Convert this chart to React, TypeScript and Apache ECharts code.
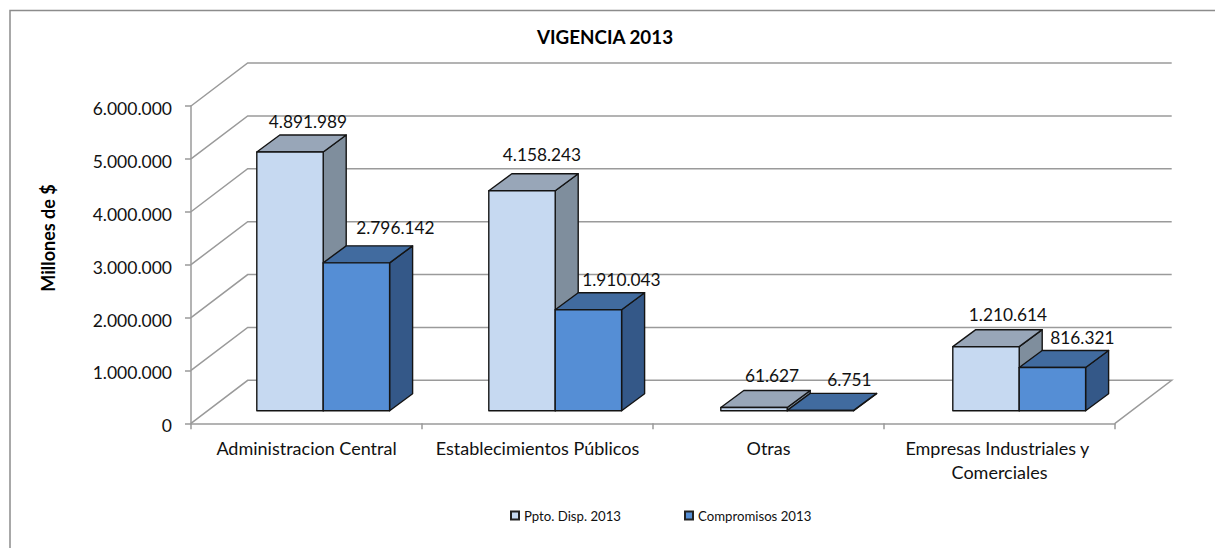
import React, { useEffect, useRef } from "react";
import * as echarts from "echarts";

const categories = ["Administracion Central", "Establecimientos Públicos", "Otras", "Empresas Industriales y Comerciales"];
const presupuesto = [4891989, 4158243, 61627, 1210614];
const compromisos = [2796142, 1910043, 6751, 816321];
const yTicks = [0, 1000000, 2000000, 3000000, 4000000, 5000000, 6000000];

// Layout of the pseudo-3D projection, in pixels
const GRID = { left: 191, top: 106, width: 924, height: 317.3 };
const WALL = { dx: 56.7, dy: -43 };
const BAR = { width: 66.4, dx: 23, dy: -17, offX: 16.7, offY: -12.6, stepExtra: 1 };
const nudgeA = [[18, -30], [20, -36], [18, -32], [22, -32]];
const nudgeB = [[39, -35], [33, -30], [29, -31], [30, -30]];

const FONT = "Lato";
const fmt = (v: number) => v.toString().replace(/\B(?=(\d{3})+(?!\d))/g, ".");

function barRenderer(seriesIndex: number, face: string, top: string, side: string, nudge: number[][]) {
  return (params: any, api: any) => {
    const cat = api.value(0);
    const val = api.value(1);
    const [cx, y0] = api.coord([cat, 0]);
    const [, yV] = api.coord([cat, val]);
    const w = BAR.width;
    const xL = cx + BAR.offX + cat * BAR.stepExtra + (seriesIndex === 0 ? -w : 0);
    const xR = xL + w;
    const yB = y0 + BAR.offY;
    const yT = yV + BAR.offY;
    const { dx, dy } = BAR;
    const stroke = { stroke: "#141414", lineWidth: 1.4, lineJoin: "round" };
    const poly = (points: number[][], fill: string) => ({
      type: "polygon",
      shape: { points },
      style: { fill, ...stroke },
    });
    const n = nudge[cat];
    return {
      type: "group",
      children: [
        poly([[xR, yB], [xR + dx, yB + dy], [xR + dx, yT + dy], [xR, yT]], side),
        poly([[xL, yT], [xR, yT], [xR + dx, yT + dy], [xL + dx, yT + dy]], top),
        poly([[xL, yB], [xR, yB], [xR, yT], [xL, yT]], face),
        {
          type: "text",
          z2: 10,
          style: {
            x: xL + w / 2 + n[0],
            y: yT + n[1],
            text: fmt(val),
            align: "center",
            verticalAlign: "middle",
            fill: "#111",
            font: `17.3px ${FONT}`,
          },
        },
      ],
    };
  };
}

function wallRenderer(params: any, api: any) {
  const v = api.value(0);
  const c = params.coordSys;
  const y = api.coord([0, v])[1];
  const xL = c.x;
  const xR = c.x + c.width;
  const pts = [[xL, y], [xL + WALL.dx, y + WALL.dy], [xR + WALL.dx, y + WALL.dy]];
  if (v === 0) pts.push([xR, y]);
  return {
    type: "polyline",
    shape: { points: pts },
    style: { fill: "none", stroke: "#9a9a9a", lineWidth: 1.5 },
  };
}

export default function App() {
  const ref = useRef<HTMLDivElement>(null);
  useEffect(() => {
    document.body.style.margin = "0";
    const chart = echarts.init(ref.current!, null, { renderer: "svg" });
    chart.setOption({
      animation: false,
      backgroundColor: "#fff",
      textStyle: { fontFamily: FONT },
      title: {
        text: "VIGENCIA 2013",
        left: 600,
        top: 22,
        textAlign: "center",
        textStyle: { fontFamily: FONT, fontSize: 18.8, fontWeight: "bold", color: "#000" },
      },
      graphic: [
        {
          type: "polyline",
          silent: true,
          shape: { points: [[10, 560], [10, 10.5], [1230, 10.5]] },
          style: { fill: "none", stroke: "#8c8c8c", lineWidth: 1.5 },
        },
        {
          type: "text",
          x: 48,
          y: 238,
          rotation: Math.PI / 2,
          style: {
            text: "Millones de $",
            align: "center",
            verticalAlign: "middle",
            font: `bold 18px ${FONT}`,
            fill: "#000",
          },
        },
      ],
      legend: {
        data: ["Ppto. Disp. 2013", "Compromisos 2013"],
        left: 510,
        top: 509,
        padding: 0,
        itemWidth: 8,
        itemHeight: 8,
        itemGap: 63,
        icon: "rect",
        textStyle: { fontFamily: FONT, fontSize: 13.2, color: "#111" },
      },
      grid: { ...GRID },
      xAxis: {
        type: "category",
        data: categories,
        axisLine: { lineStyle: { color: "#9a9a9a", width: 1.5 } },
        axisTick: { show: true, alignWithLabel: false, length: 6, lineStyle: { color: "#9a9a9a", width: 1.5 } },
        splitLine: { show: false },
        axisLabel: {
          interval: 0,
          margin: 13,
          width: 225,
          overflow: "break",
          lineHeight: 24,
          fontFamily: FONT,
          fontSize: 18,
          color: "#111",
        },
      },
      yAxis: {
        type: "value",
        min: 0,
        max: 6000000,
        interval: 1000000,
        axisLine: { show: true, lineStyle: { color: "#9a9a9a", width: 1.5 } },
        axisTick: { show: true, length: 6, lineStyle: { color: "#9a9a9a", width: 1.5 } },
        splitLine: { show: false },
        axisLabel: {
          margin: 19,
          fontFamily: FONT,
          fontSize: 17.5,
          color: "#111",
          formatter: (v: number) => `{t|${fmt(v)}}`,
          rich: { t: { fontFamily: FONT, fontSize: 17.5, color: "#111", padding: [5, 0, 0, 0] } },
        },
      },
      series: [
        {
          name: "paredes",
          type: "custom",
          z: 1,
          silent: true,
          renderItem: wallRenderer,
          encode: { x: -1, y: 0 },
          data: yTicks.map((v) => [v]),
        },
        {
          name: "Ppto. Disp. 2013",
          type: "custom",
          z: 2,
          itemStyle: { color: "#C6D9F1", borderColor: "#222", borderWidth: 1 },
          renderItem: barRenderer(0, "#C6D9F1", "#98A6B8", "#7F8E9D", nudgeA),
          encode: { x: 0, y: 1 },
          data: presupuesto.map((v, i) => [i, v]),
        },
        {
          name: "Compromisos 2013",
          type: "custom",
          z: 3,
          itemStyle: { color: "#558ED5", borderColor: "#222", borderWidth: 1 },
          renderItem: barRenderer(1, "#558ED5", "#416B9F", "#345888", nudgeB),
          encode: { x: 0, y: 1 },
          data: compromisos.map((v, i) => [i, v]),
        },
      ],
    });
    return () => chart.dispose();
  }, []);
  return <div ref={ref} style={{ width: 1215, height: 548 }} />;
}
